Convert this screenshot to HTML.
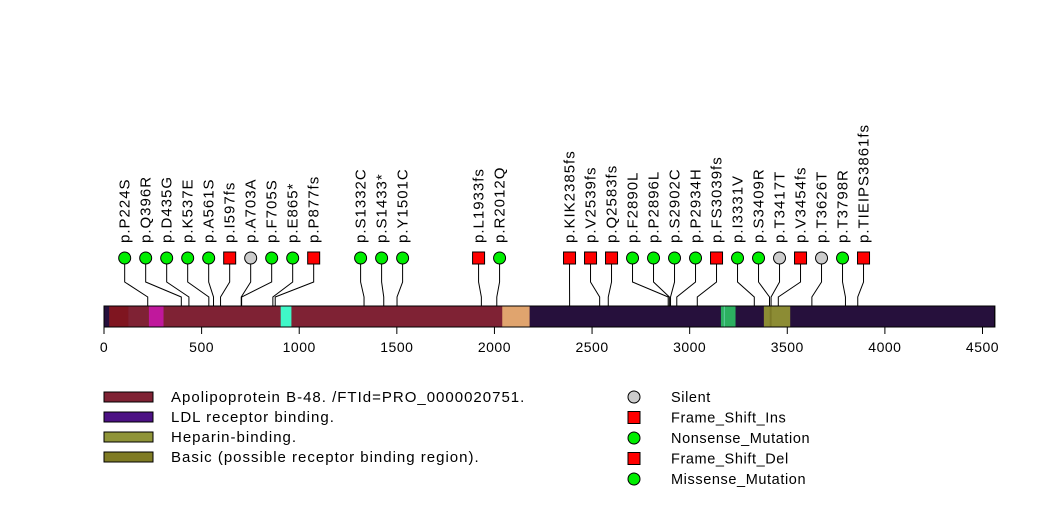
<!DOCTYPE html>
<html><head><meta charset="utf-8">
<style>
body{margin:0;background:#fff;}
svg{display:block;font-family:"Liberation Sans",sans-serif;}
</style></head>
<body>
<svg id="chart" width="1047" height="524" viewBox="0 0 1047 524" xmlns="http://www.w3.org/2000/svg">
<g id="domains"></g>
<g id="axis"></g>
<g id="muts"></g>
<g id="legend"></g>
</svg>
<script>
const proteinLength = 4563;
const axisTicks = [0,500,1000,1500,2000,2500,3000,3500,4000,4500];
const mutLabels = ["p.P224S","p.Q396R","p.D435G","p.K537E","p.A561S","p.I597fs","p.A703A","p.F705S","p.E865*","p.P877fs","p.S1332C","p.S1433*","p.Y1501C","p.L1933fs","p.R2012Q","p.KIK2385fs","p.V2539fs","p.Q2583fs","p.F2890L","p.P2896L","p.S2902C","p.P2934H","p.FS3039fs","p.I3331V","p.S3409R","p.T3417T","p.V3454fs","p.T3626T","p.T3798R","p.TIEIPS3861fs"];
const mutPositions = [224,396,435,537,561,597,703,705,865,877,1332,1433,1501,1933,2012,2385,2539,2583,2890,2896,2902,2934,3039,3331,3409,3417,3454,3626,3798,3861];
const mutTypes = ["M","M","M","M","M","FI","S","M","N","FI","M","N","M","FD","M","FI","FI","FD","M","M","M","M","FI","M","M","S","FD","S","M","FI"];
const domainStarts = [27,27,125,230,905,2040,3160,3175,3380,3410];
const domainEnds = [2180,125,2100,305,960,2180,3235,3180,3515,3420];
const domainColors = ["#7f2234","#7f1520","#7f2234","#c0189c","#40f8c8","#e0a46e","#2cb060","#60d0a0","#8c8c34","#7c7a28"];
const legendDomainNames = ["Apolipoprotein B-48. /FTId=PRO_0000020751.","LDL receptor binding.","Heparin-binding.","Basic (possible receptor binding region)."];
const legendDomainColors = ["#7f2234","#4c1184","#8f9438","#7f7b24"];
const legendMutNames = ["Silent","Frame_Shift_Ins","Nonsense_Mutation","Frame_Shift_Del","Missense_Mutation"];
const legendMutTypes = ["S","FI","N","FD","M"];

const NS="http://www.w3.org/2000/svg";
const x0=104, scale=(982.5-104)/4500;
const X=v=>x0+v*scale;
function mk(tag,attrs,parent){const e=document.createElementNS(NS,tag);for(const k in attrs)e.setAttribute(k,attrs[k]);parent.appendChild(e);return e;}
const gD=document.getElementById('domains'),gA=document.getElementById('axis'),gM=document.getElementById('muts'),gL=document.getElementById('legend');
const barY=306,barH=21;
let bg=mk('rect',{x:X(0),y:barY,width:X(proteinLength)-X(0),height:barH,fill:'#26103c',stroke:'#000'},gD);


domainStarts.forEach((s,i)=>{
  const r=mk('rect',{x:X(s),y:barY,width:X(domainEnds[i])-X(s),height:barH,fill:domainColors[i]},gD);
  
  
});
mk('rect',{x:X(0),y:barY,width:X(proteinLength)-X(0),height:barH,fill:'none',stroke:'#000'},gD);
mk('line',{x1:X(0),x2:X(4500),y1:barY+barH,y2:barY+barH,stroke:'#000'},gA);
axisTicks.forEach(t=>{
  mk('line',{x1:X(t),x2:X(t),y1:barY+barH,y2:barY+barH+7,stroke:'#000'},gA);
  const tx=mk('text',{x:X(t),y:352,'font-size':14,'text-anchor':'middle','letter-spacing':0.5},gA);
  tx.textContent=t;
  
  
});
const n=mutPositions.length;
let mx=mutPositions.map(p=>X(p));
for(let it=0;it<500;it++){
  for(let i=0;i<n-1;i++){
    const d=mx[i+1]-mx[i];
    if(d<21){const s=(21-d)/2;mx[i]-=s;mx[i+1]+=s;}
  }
}
const colors={S:'#cccccc',FI:'#ff0000',FD:'#ff0000',N:'#00ee00',M:'#00ee00'};
function symbol(type,cx,cy,parent){
  if(type==='FI'||type==='FD') return mk('rect',{x:cx-6,y:cy-6,width:12,height:12,fill:colors[type],stroke:'#000'},parent);
  return mk('circle',{cx:cx,cy:cy,r:6,fill:colors[type],stroke:'#000'},parent);
}
for(let i=0;i<n;i++){
  const px=X(mutPositions[i]);
  mk('polyline',{points:`${px},${barY} ${px},297 ${mx[i]},282 ${mx[i]},258`,fill:'none',stroke:'#000','stroke-width':1},gM);
  const s=symbol(mutTypes[i],mx[i],258,gM);
  
  
  const t=mk('text',{x:0,y:0,'font-size':15,'letter-spacing':1,transform:`translate(${mx[i]+5},243) rotate(-90)`},gM);
  t.textContent=mutLabels[i];
  
  
}
legendDomainNames.forEach((nm,i)=>{
  const y=392+i*20;
  const r=mk('rect',{x:104,y:y,width:49,height:10,fill:legendDomainColors[i],stroke:'#000'},gL);
  
  
  const t=mk('text',{x:171,y:y+10,'font-size':15,'letter-spacing':1},gL);
  t.textContent=nm;
  
  
});
legendMutNames.forEach((nm,i)=>{
  const y=397+i*20.5;
  const s=symbol(legendMutTypes[i],634,y,gL);
  
  
  const t=mk('text',{x:671,y:y+5,'font-size':14.5,'letter-spacing':0.6},gL);
  t.textContent=nm;
  
  
});
</script>
</body></html>
